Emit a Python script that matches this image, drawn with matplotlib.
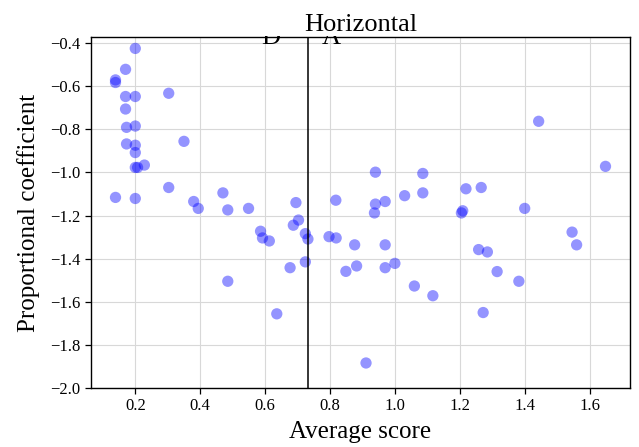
import numpy as np
import matplotlib
matplotlib.use("Agg")
import matplotlib.pyplot as plt
from matplotlib.patches import Rectangle

plt.rcParams['font.family'] = ['Liberation Serif', 'DejaVu Serif']

# average score of each sample and its fitted proportional coefficient
avg_score = [
    0.200, 0.170, 0.139, 0.139, 0.170, 0.200, 0.170, 0.303, 0.173, 0.200,
    0.350, 0.173, 0.200, 0.200, 0.200, 0.207, 0.228, 0.139, 0.200, 0.303,
    0.380, 0.394, 0.470, 0.485, 0.549, 0.695, 0.818, 0.703, 0.687, 0.586,
    0.592, 0.613, 0.724, 0.732, 0.724, 0.677, 0.485, 0.636, 0.797, 0.819,
    0.876, 0.882, 0.849, 1.443, 1.649, 0.940, 1.086, 1.219, 1.266, 1.030,
    1.086, 0.940, 0.970, 0.937, 1.209, 1.205, 1.400, 0.970, 0.970, 1.000,
    1.060, 1.117, 1.258, 1.285, 1.315, 1.382, 1.272, 1.546, 1.560, 0.911,
]
prop_coef = [
    -0.425, -0.522, -0.571, -0.583, -0.648, -0.648, -0.706, -0.633, -0.791, -0.785,
    -0.856, -0.868, -0.874, -0.908, -0.977, -0.977, -0.966, -1.116, -1.121, -1.070,
    -1.135, -1.167, -1.095, -1.174, -1.167, -1.140, -1.129, -1.221, -1.245, -1.273,
    -1.304, -1.318, -1.284, -1.309, -1.415, -1.442, -1.505, -1.656, -1.298, -1.304,
    -1.336, -1.434, -1.459, -0.763, -0.972, -0.999, -1.005, -1.076, -1.070, -1.108,
    -1.095, -1.147, -1.135, -1.188, -1.178, -1.188, -1.167, -1.336, -1.442, -1.422,
    -1.527, -1.572, -1.358, -1.369, -1.460, -1.505, -1.650, -1.277, -1.336, -1.884,
]

x = np.array(avg_score)
y = np.array(prop_coef)

fig = plt.figure(figsize=(6.39, 4.47), dpi=100)
ax = fig.add_axes([91 / 639, 1 - 388 / 447, 539 / 639, 351 / 447])

ax.scatter(x, y, s=66, color='blue', alpha=0.42, edgecolors='none', zorder=3)
ax.axvline(np.mean(x), color='black', lw=1.1, zorder=4)

ax.set_ylim(-2.0, -0.372)
ax.set_yticks(np.arange(-2.0, -0.39, 0.2))
ax.grid(True, color='#d8d8d8', lw=0.8)
ax.set_axisbelow(True)

for sp in ax.spines.values():
    sp.set_color('black')
    sp.set_linewidth(1.0)
ax.tick_params(labelsize=12, length=4, width=0.9, colors='black')

ax.set_title('Horizontal', fontsize=19, pad=4)

# second title line sits low; only its foot shows below the top spine
for pos, letter in [(0.334, 'D'), (0.445, 'A')]:
    ax.text(pos, 0.981, letter, transform=ax.transAxes, ha='center',
            va='baseline', fontsize=19, zorder=2.4, clip_on=False)
ax.add_patch(Rectangle((0, 1.003), 1, 0.1, transform=ax.transAxes,
                       facecolor='white', edgecolor='none', zorder=2.6,
                       clip_on=False))

ax.set_xlabel('Average score', fontsize=18, labelpad=5)
ax.set_ylabel('Proportional coefficient', fontsize=18, labelpad=7)

fig.savefig('out.png', dpi=100)
